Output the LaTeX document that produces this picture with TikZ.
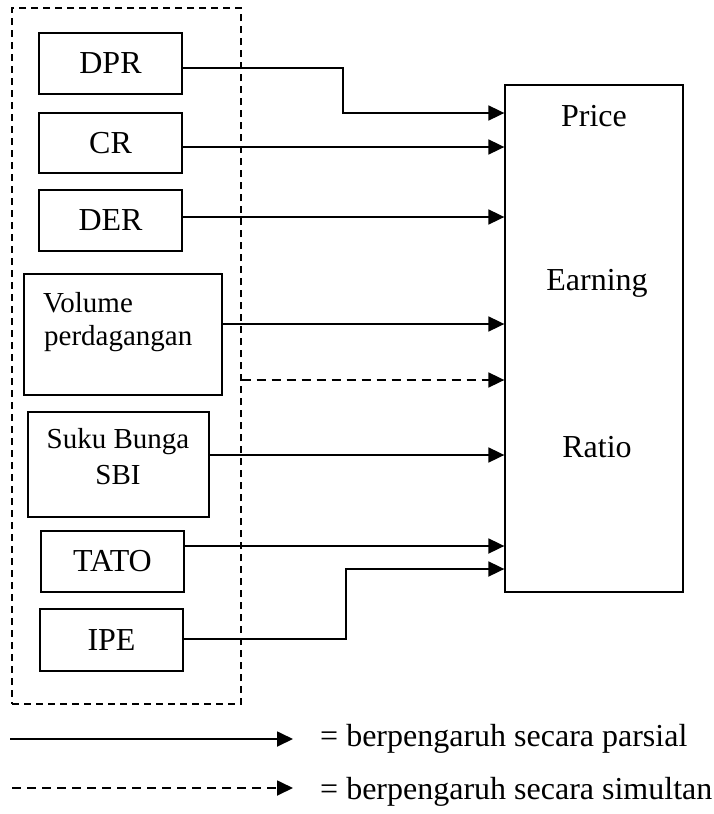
\documentclass[tikz,border=0pt]{standalone}
\usepackage{fontspec}
\setmainfont{Liberation Serif}
\usetikzlibrary{arrows.meta}
\begin{document}
\begin{tikzpicture}[x=1pt,y=-1pt,
  box/.style={draw,line width=1.3pt,inner sep=0pt,font=\fontsize{32}{36}\selectfont},
  sbox/.style={draw,line width=1.3pt,inner sep=0pt},
  lbl/.style={inner sep=0pt,font=\fontsize{32}{36}\selectfont},
  slbl/.style={inner sep=0pt,font=\fontsize{29}{34}\selectfont},
  arr/.style={line width=1.8pt,-{Triangle[length=16pt,width=15pt]}},
  darr/.style={arr,dash pattern=on 9pt off 6pt},
  grpbox/.style={draw,line width=1.3pt,dash pattern=on 7pt off 5pt,inner sep=0pt}]
\useasboundingbox (0,0) rectangle (714,814);
% group box
\node[grpbox,minimum width=229pt,minimum height=696pt] (grp) at (126.5,356) {};
% left boxes
\node[box,minimum width=143pt,minimum height=61pt] (dpr) at (110.5,63.5) {DPR};
\node[box,minimum width=143pt,minimum height=60pt] (cr) at (110.5,143) {CR};
\node[box,minimum width=143pt,minimum height=61pt] (der) at (110.5,220.5) {DER};
\node[sbox,minimum width=198pt,minimum height=121pt] (vol) at (123,334.5) {};
\node[slbl,anchor=base west] (vol1) at (43,312) {Volume};
\node[slbl,anchor=base west] (vol2) at (44,345) {perdagangan};
\node[sbox,minimum width=181pt,minimum height=105pt] (sbi) at (118.5,464.5) {};
\node[slbl,anchor=base] (sbi1) at (118,448) {Suku Bunga};
\node[slbl,anchor=base] (sbi2) at (118,484) {SBI};
\node[box,minimum width=143pt,minimum height=61pt] (tato) at (112.5,561.5) {TATO};
\node[box,minimum width=143pt,minimum height=62pt] (ipe) at (111.5,640) {IPE};
% right box
\node[sbox,minimum width=178pt,minimum height=507pt] (per) at (594,338.5) {};
\node[lbl] (price) at (594,116) {Price};
\node[lbl] (earn) at (597,283) {Earning};
\node[lbl] (ratio) at (597,447) {Ratio};
% arrows
\draw[arr] (dpr.east |- 0,68) -| (343,113) -- (per.west |- 0,113);
\draw[arr] (cr.east |- 0,147) -- (per.west |- 0,147);
\draw[arr] (der.east |- 0,217) -- (per.west |- 0,217);
\draw[arr] (vol.east |- 0,324) -- (per.west |- 0,324);
\draw[darr] (grp.east |- 0,380) -- (per.west |- 0,380);
\draw[arr] (sbi.east |- 0,455) -- (per.west |- 0,455);
\draw[arr] (tato.east |- 0,546) -- (per.west |- 0,546);
\draw[arr] (ipe.east |- 0,639) -| (346,569) -- (per.west |- 0,569);
% legend
\coordinate (l1a) at (10,739);
\coordinate (l1b) at (293,739);
\coordinate (l2a) at (12,788);
\coordinate (l2b) at (293,788);
\draw[arr] (l1a) -- (l1b);
\draw[darr] (l2a) -- (l2b);
\node[lbl,anchor=base west] (leg1) at (320,746) {= berpengaruh secara parsial};
\node[lbl,anchor=base west] (leg2) at (320,799) {= berpengaruh secara simultan};
\end{tikzpicture}
\end{document}
